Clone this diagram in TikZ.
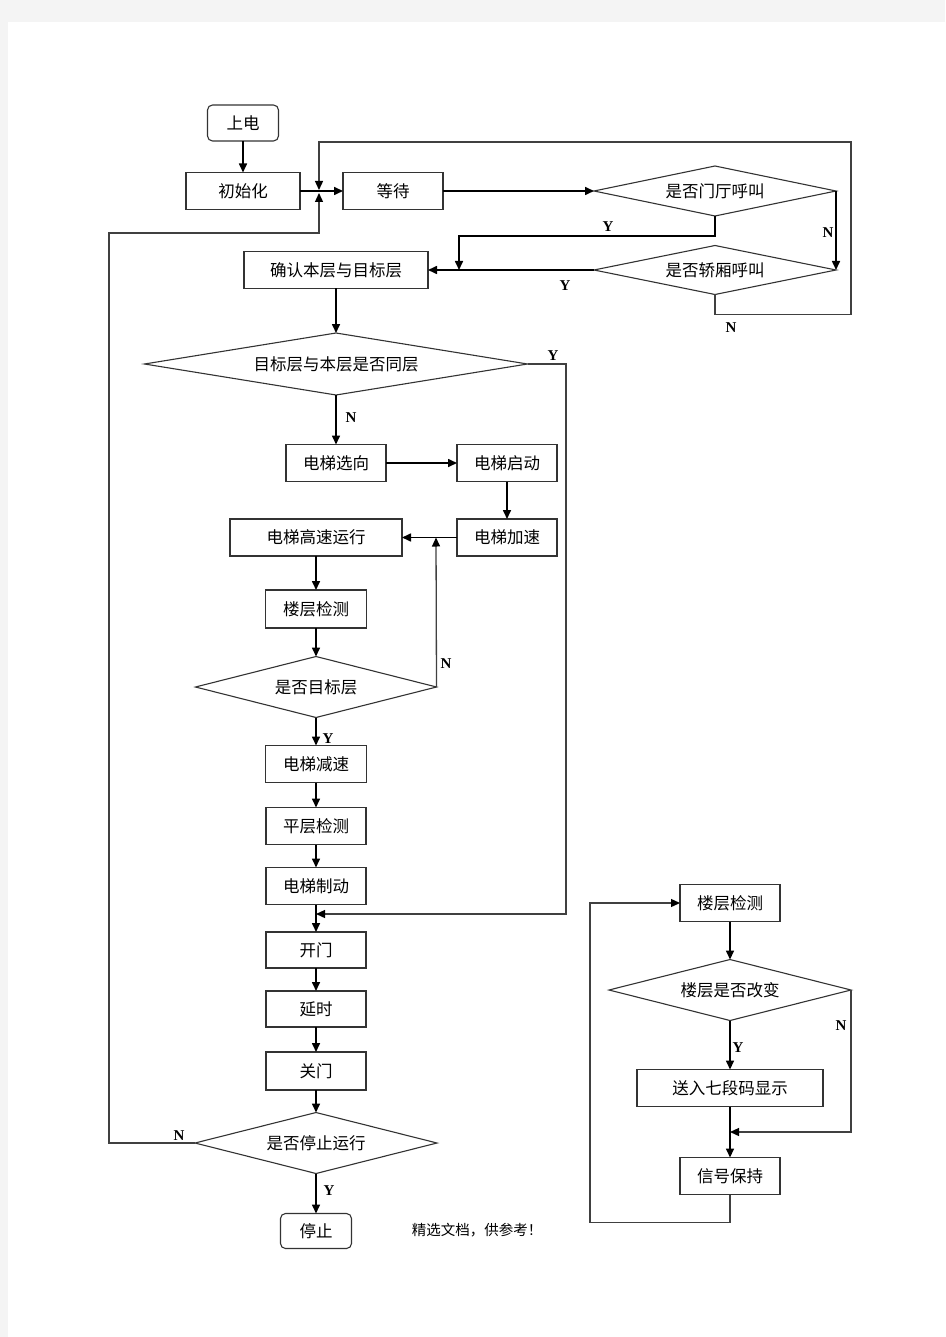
\documentclass[tikz,border=0pt]{standalone}
\usepackage{fontspec}
\usetikzlibrary{shapes.geometric,arrows.meta}
\newfontfamily\cjk{Noto Sans CJK SC}
\newfontfamily\tnr{Liberation Serif}
\definecolor{pagebg}{HTML}{F4F4F4}
\definecolor{edgec}{HTML}{333333}
\definecolor{loopc}{HTML}{404040}
\begin{document}
\begin{tikzpicture}[x=1pt,y=-1pt,
  txt/.style={font=\cjk\fontsize{16.5}{17}\selectfont, text=black},
  procbox/.style={draw=edgec, line width=1.1pt, rectangle, inner sep=0pt, outer sep=0pt, minimum height=37pt, txt},
  roundbox/.style={procbox, rounded corners=5pt},
  decision/.style={draw=edgec, line width=1.1pt, diamond, inner sep=0pt, outer sep=0pt, txt},
  yn/.style={font=\tnr\bfseries\fontsize{15}{15}\selectfont, inner sep=0pt},
  conn/.style={line width=1.6pt, black, -{Triangle[length=9pt,width=8pt]}},
  loopln/.style={line width=1.3pt, loopc},
  looparr/.style={loopln, -{Triangle[length=9pt,width=8pt,color=black]}}]
\useasboundingbox (0,0) rectangle (945,1337);
\fill[pagebg] (0,0) rectangle (945,1337);
\fill[white] (8,22) rectangle (945,1337);

% main column
\node[roundbox, minimum width=71pt, minimum height=36pt] (power) at (243,123) {上电};
\node[procbox, minimum width=114pt] (init) at (243,191) {初始化};
\node[procbox, minimum width=100pt] (wait) at (393,191) {等待};
\node[decision, minimum width=242pt, minimum height=50pt, shape aspect=4.84] (hall) at (715,191) {是否门厅呼叫};
\node[decision, minimum width=242pt, minimum height=49pt, shape aspect=4.94] (car) at (715,270) {是否轿厢呼叫};
\node[procbox, minimum width=184pt] (confirm) at (336,270) {确认本层与目标层};
\node[decision, minimum width=383pt, minimum height=62pt, shape aspect=6.18] (same) at (336,364) {目标层与本层是否同层};
\node[procbox, minimum width=100pt] (dir) at (336,463) {电梯选向};
\node[procbox, minimum width=100pt] (start) at (507,463) {电梯启动};
\node[procbox, minimum width=100pt] (acc) at (507,537.5) {电梯加速};
\node[procbox, minimum width=172pt, line width=1.4pt] (fast) at (316,537.5) {电梯高速运行};
\node[procbox, minimum width=101pt, minimum height=38pt] (det) at (316,609) {楼层检测};
\node[decision, minimum width=241pt, minimum height=61pt, shape aspect=3.95] (target) at (316,687) {是否目标层};
\node[procbox, minimum width=101pt] (dec) at (316,764) {电梯减速};
\node[procbox, minimum width=100pt] (level) at (316,826) {平层检测};
\node[procbox, minimum width=100pt] (brake) at (316,886) {电梯制动};
\node[procbox, minimum width=100pt, minimum height=36pt] (open) at (316,950) {开门};
\node[procbox, minimum width=100pt, minimum height=36pt] (delay) at (316,1009) {延时};
\node[procbox, minimum width=100pt, minimum height=38pt, line width=1.6pt] (close) at (316,1071) {关门};
\node[decision, minimum width=242pt, minimum height=61pt, shape aspect=3.97] (stopq) at (316,1143) {是否停止运行};
\node[roundbox, minimum width=71pt, minimum height=35pt] (stop) at (316,1231) {停止};
\node[font=\cjk\fontsize{14.5}{15}\selectfont, inner sep=0pt] (note) at (477,1230) {精选文档，供参考！};

% right subsystem
\node[procbox, minimum width=100pt] (det2) at (730,903) {楼层检测};
\node[decision, minimum width=242pt, minimum height=61pt, shape aspect=3.97] (chg) at (730,990) {楼层是否改变};
\node[procbox, minimum width=186pt] (seg) at (730,1088) {送入七段码显示};
\node[procbox, minimum width=100pt] (hold) at (730,1176) {信号保持};

% junction coordinates
\coordinate (jt) at (319,190);
\coordinate (jb) at (319,193);
\coordinate (hy) at (459,270);
\coordinate (j2) at (316,914);
\coordinate (j3) at (436,537.5);
\coordinate (j4) at (730,1132);

% connectors
\draw[conn] (power) -- (init);
\draw[conn] (init) -- (wait);
\draw[conn] (wait) -- (hall.west);
\draw[conn] (hall.east) -- (car.east);
\draw[conn] (hall.south) -- ++(0,20) -| (hy);
\draw[conn] (car.west) -- (confirm.east);
\draw[looparr] (car.south) -- ++(0,20) -| (851,142) -| (jt);
\draw[conn] (confirm) -- (same);
\draw[looparr] (same.east) -| (566,914) -- (j2);
\draw[conn] (same) -- (dir);
\draw[conn] (dir) -- (start);
\draw[conn] (start) -- (acc);
\draw[conn] (acc) -- (fast);
\draw[conn] (fast) -- (det);
\draw[conn] (det) -- (target);
\draw[looparr] (target.east) -- (j3);
\draw[conn] (target) -- (dec);
\draw[conn] (dec) -- (level);
\draw[conn] (level) -- (brake);
\draw[conn] (brake) -- (open);
\draw[conn] (open) -- (delay);
\draw[conn] (delay) -- (close);
\draw[conn] (close) -- (stopq);
\draw[conn] (stopq) -- (stop);
\draw[looparr] (stopq.west) -- (109,1143) |- (319,233) -- (jb);

\draw[conn] (det2) -- (chg);
\draw[conn] (chg) -- (seg);
\draw[conn] (seg) -- (hold);
\draw[looparr] (chg.east) |- (j4);
\draw[looparr] (hold.south) -- ++(0,28) -| (590,903) -- (det2.west);

% labels
\node[yn] (l1) at (608,227) {Y};
\node[yn] (l2) at (828,233) {N};
\node[yn] (l3) at (565,286) {Y};
\node[yn] (l4) at (731,328) {N};
\node[yn] (l5) at (553,356) {Y};
\node[yn] (l6) at (351,418) {N};
\node[yn] (l7) at (446,664) {N};
\node[yn] (l8) at (328,739) {Y};
\node[yn] (l9) at (179,1136) {N};
\node[yn] (l10) at (329,1191) {Y};
\node[yn] (l11) at (738,1048) {Y};
\node[yn] (l12) at (841,1026) {N};
\end{tikzpicture}
\end{document}
